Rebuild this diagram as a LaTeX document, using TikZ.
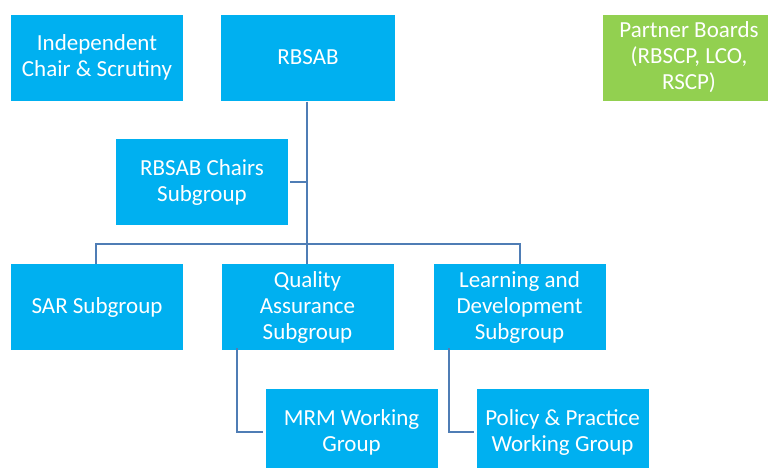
\documentclass[tikz,border=0pt]{standalone}
\usepackage{fontspec}
\setmainfont{Carlito}
\definecolor{boxblue}{HTML}{00B0F0}
\definecolor{boxgreen}{HTML}{92D050}
\definecolor{linkblue}{HTML}{4F7DB5}
\begin{document}
\begin{tikzpicture}[x=1pt,y=-1pt,
  unit/.style={rectangle, fill=boxblue, text=white, minimum width=172pt, minimum height=86pt,
    inner sep=0pt, align=center, font=\fontsize{23}{26}\selectfont},
  partner/.style={unit, fill=boxgreen},
  link/.style={draw=linkblue, line width=2pt}]
\useasboundingbox (0,0) rectangle (768,467);
\clip (0,0) rectangle (768,467);
% top row
\node[unit] (indep) at (97,57.5) {Independent\\Chair \& Scrutiny};
\node[unit, minimum width=174pt] (rbsab) at (308,57.5) {RBSAB};
\node[partner, minimum width=172pt] (partner) at (689,57.5) {Partner Boards\\(RBSCP, LCO,\\RSCP)};
% assistant
\node[unit] (chairs) at (202,182) {RBSAB Chairs\\Subgroup};
% subgroups
\node[unit] (sar) at (97,307) {SAR Subgroup};
\node[unit] (qa) at (307.5,307) {Quality\\Assurance\\Subgroup};
\node[unit] (ld) at (519.5,307) {Learning and\\Development\\Subgroup};
% working groups
\node[unit] (mrm) at (351.5,432) {MRM Working\\Group};
\node[unit] (policy) at (562.5,432) {Policy \& Practice\\Working Group};
% branch points
\coordinate (hub) at (307,244);
\coordinate (chairj) at (307,182);
% connectors
\draw[link] (rbsab.south -| hub) ++(0,1) -- (hub);
\draw[link] (chairs.east) ++(2,0) -- (chairj);
\draw[link] (sar.north) ++(-1,0) |- (hub) -| (ld.north);
\draw[link] (hub) -- (qa.north -| hub);
\draw[link] ([xshift=16pt,yshift=2pt]qa.south west) |- ([xshift=-2pt]mrm.west);
\draw[link] ([xshift=16pt,yshift=2pt]ld.south west) |- ([xshift=-2pt]policy.west);
\end{tikzpicture}
\end{document}
